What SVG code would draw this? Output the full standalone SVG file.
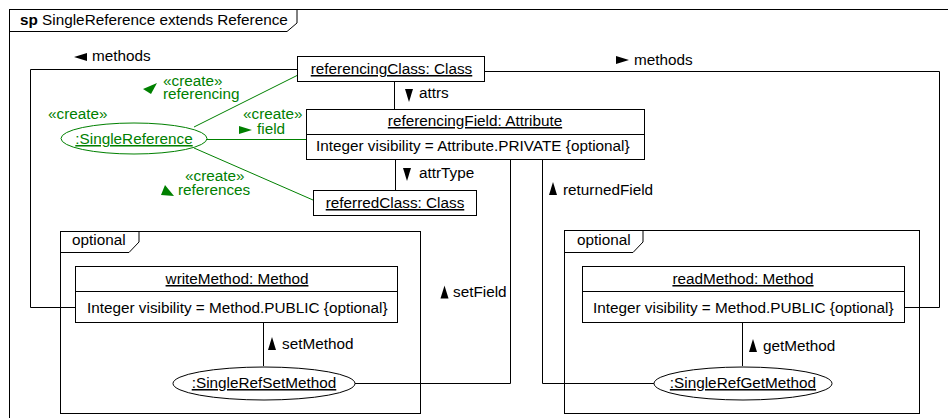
<svg xmlns="http://www.w3.org/2000/svg" width="948" height="418" viewBox="0 0 948 418">
  <style>
    text { font-family: "Liberation Sans", Arial, sans-serif; font-size: 15.3px; fill: #000; }
    .u { text-decoration: underline; }
    .mid { text-anchor: middle; }
    .g { fill: #008000; }
    .box { fill: #fff; stroke: #000; stroke-width: 1; }
    .frame { fill: none; stroke: #000; stroke-width: 1; }
    .line { fill: none; stroke: #000; stroke-width: 1; }
    .gline { fill: none; stroke: #008000; stroke-width: 1; }
    .gobj { fill: #fff; stroke: #008000; stroke-width: 1; }
    .tri { fill: #000; }
    .gtri { fill: #008000; }
  </style>
  <defs>
    <!-- direction marker: pointing right, rotated per use -->
    <polygon id="dir" points="-6,-4 7,0 -6,4"/>
  </defs>

  <rect width="948" height="418" fill="#fff"/>

  <!-- outer story pattern frame -->
  <g id="frame">
    <rect class="frame" x="9.5" y="9.5" width="1000" height="500"/>
    <path class="frame" d="M9.5,31.5 H287 L297,23 V9.5"/>
    <text x="20" y="25"><tspan font-weight="bold">sp</tspan> SingleReference extends Reference</text>
  </g>

  <!-- optional fragments -->
  <g id="optWrite">
    <rect class="frame" x="60.5" y="231.5" width="360" height="182"/>
    <path class="frame" d="M60.5,252.5 H129 L139,242 V231.5"/>
    <text x="72" y="245">optional</text>
  </g>
  <g id="optRead">
    <rect class="frame" x="564.5" y="230.5" width="355" height="183"/>
    <path class="frame" d="M564.5,252.5 H633 L643,242 V230.5"/>
    <text x="577" y="245">optional</text>
  </g>

  <!-- connectors -->
  <g id="connectors">
    <path class="line" d="M297,69.5 H30.5 V307.5 H75"/>
    <path class="line" d="M485,71.5 H939.5 V307.5 H905"/>
    <path class="line" d="M394.5,81 V109"/>
    <path class="line" d="M395.5,159 V190"/>
    <path class="line" d="M510.5,159 V383.5 H355"/>
    <path class="line" d="M542.5,159 V383.5 H654"/>
    <path class="line" d="M263.5,322 V366"/>
    <path class="line" d="M742.5,323 V366"/>
    <path class="gline" d="M194,127 L298,75"/>
    <path class="gline" d="M207,139.5 H306"/>
    <path class="gline" d="M194,148 L313,200"/>

    <use href="#dir" class="tri" transform="translate(81,57) rotate(180)"/>
    <text x="92" y="61">methods</text>
    <use href="#dir" class="tri" transform="translate(622,60)"/>
    <text x="634" y="65">methods</text>
    <use href="#dir" class="tri" transform="translate(409,95) rotate(90)"/>
    <text x="419" y="98">attrs</text>
    <use href="#dir" class="tri" transform="translate(407,174) rotate(90)"/>
    <text x="419" y="178">attrType</text>
    <use href="#dir" class="tri" transform="translate(553,189) rotate(-90)"/>
    <text x="563" y="195">returnedField</text>
    <use href="#dir" class="tri" transform="translate(444.5,292.5) rotate(-90)"/>
    <text x="453" y="297">setField</text>
    <use href="#dir" class="tri" transform="translate(272,344) rotate(-90)"/>
    <text x="282" y="349">setMethod</text>
    <use href="#dir" class="tri" transform="translate(753,346) rotate(-90)"/>
    <text x="763" y="351">getMethod</text>

    <polygon class="gtri" points="143,89 157,83 151,94"/>
    <text class="g" x="163" y="86">«create»</text>
    <text class="g" x="163" y="99">referencing</text>
    <text class="g" x="243" y="119">«create»</text>
    <use href="#dir" class="gtri" transform="translate(245,130)"/>
    <text class="g" x="257" y="134">field</text>
    <text class="g" x="185" y="181">«create»</text>
    <polygon class="gtri" points="165,185 161,195 174,196"/>
    <text class="g" x="178" y="195">references</text>
  </g>

  <!-- objects -->
  <g id="singleReference">
    <text class="g" x="48" y="119">«create»</text>
    <ellipse class="gobj" cx="134" cy="138.5" rx="73" ry="15.5"/>
    <text class="g u mid" x="134" y="144">:SingleReference</text>
  </g>

  <g id="referencingClass">
    <rect class="box" x="297.5" y="56.5" width="187" height="25"/>
    <text class="u mid" x="391.5" y="74">referencingClass: Class</text>
  </g>

  <g id="referencingField">
    <rect class="box" x="306.5" y="109.5" width="338" height="50"/>
    <line class="line" x1="306.5" y1="134.5" x2="644.5" y2="134.5"/>
    <text class="u mid" x="475" y="126">referencingField: Attribute</text>
    <text x="316" y="151">Integer visibility = Attribute.PRIVATE {optional}</text>
  </g>

  <g id="referredClass">
    <rect class="box" x="313.5" y="190.5" width="163" height="25"/>
    <text class="u mid" x="395" y="208">referredClass: Class</text>
  </g>

  <g id="writeMethod">
    <rect class="box" x="75.5" y="266.5" width="322" height="56"/>
    <line class="line" x1="75.5" y1="291.5" x2="397.5" y2="291.5"/>
    <text class="u mid" x="237" y="284">writeMethod: Method</text>
    <text x="87" y="313">Integer visibility = Method.PUBLIC {optional}</text>
  </g>

  <g id="readMethod">
    <rect class="box" x="582.5" y="266.5" width="322" height="56"/>
    <line class="line" x1="582.5" y1="291.5" x2="904.5" y2="291.5"/>
    <text class="u mid" x="743" y="284">readMethod: Method</text>
    <text x="593" y="313">Integer visibility = Method.PUBLIC {optional}</text>
  </g>

  <g id="singleRefSetMethod">
    <ellipse class="box" cx="264" cy="383.5" rx="91" ry="16.5"/>
    <text class="u mid" x="264" y="388">:SingleRefSetMethod</text>
  </g>

  <g id="singleRefGetMethod">
    <ellipse class="box" cx="743" cy="383.5" rx="89" ry="16.5"/>
    <text class="u mid" x="743" y="388">:SingleRefGetMethod</text>
  </g>
</svg>
